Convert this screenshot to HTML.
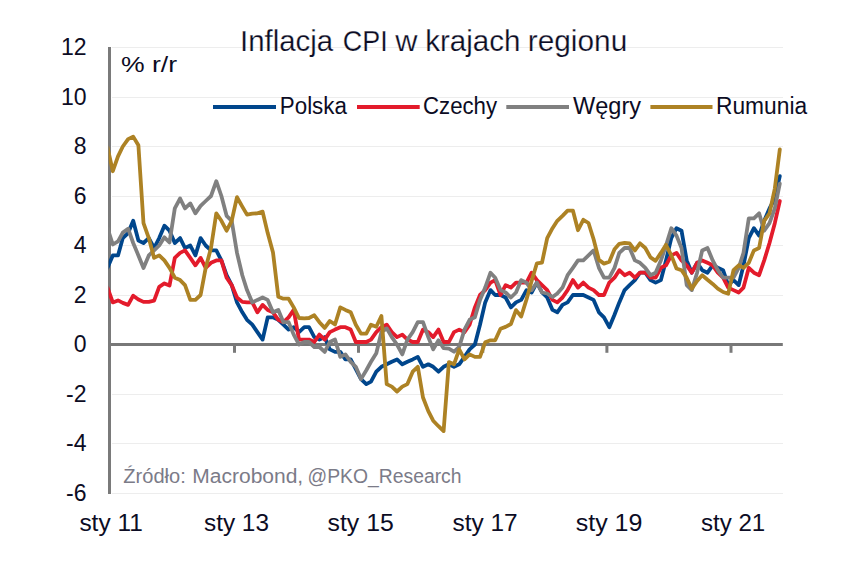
<!DOCTYPE html>
<html lang="pl"><head><meta charset="utf-8"><title>Inflacja CPI w krajach regionu</title>
<style>
html,body{margin:0;padding:0;background:#fff;}
body{width:849px;height:571px;overflow:hidden;}
svg{display:block;font-family:"Liberation Sans", "DejaVu Sans", sans-serif;}
text.t{stroke:#fff;stroke-width:0.25px;}
</style></head><body>
<svg width="849" height="571" viewBox="0 0 849 571">
<defs><clipPath id="pa"><rect x="108.7" y="0" width="700" height="571"/></clipPath></defs>
<line x1="112" y1="47.5" x2="783" y2="47.5" stroke="#ededed" stroke-width="1"/>
<line x1="112" y1="97.5" x2="783" y2="97.5" stroke="#ededed" stroke-width="1"/>
<line x1="112" y1="146.5" x2="783" y2="146.5" stroke="#ededed" stroke-width="1"/>
<line x1="112" y1="196.5" x2="783" y2="196.5" stroke="#ededed" stroke-width="1"/>
<line x1="112" y1="245.5" x2="783" y2="245.5" stroke="#ededed" stroke-width="1"/>
<line x1="112" y1="295.5" x2="783" y2="295.5" stroke="#ededed" stroke-width="1"/>
<line x1="112" y1="394.5" x2="783" y2="394.5" stroke="#ededed" stroke-width="1"/>
<line x1="112" y1="443.5" x2="783" y2="443.5" stroke="#ededed" stroke-width="1"/>
<line x1="112" y1="493.5" x2="783" y2="493.5" stroke="#ededed" stroke-width="1"/>
<line x1="110" y1="344.5" x2="782.8" y2="344.5" stroke="#787878" stroke-width="3"/>
<line x1="234.5" y1="345" x2="234.5" y2="352.8" stroke="#7a7a7a" stroke-width="3"/>
<line x1="358.5" y1="345" x2="358.5" y2="352.8" stroke="#7a7a7a" stroke-width="3"/>
<line x1="482.8" y1="345" x2="482.8" y2="352.8" stroke="#7a7a7a" stroke-width="3"/>
<line x1="606.9" y1="345" x2="606.9" y2="352.8" stroke="#7a7a7a" stroke-width="3"/>
<line x1="731.0" y1="345" x2="731.0" y2="352.8" stroke="#7a7a7a" stroke-width="3"/>
<line x1="109.5" y1="47" x2="109.5" y2="494" stroke="#7a7a7a" stroke-width="3"/>
<text x="86.5" y="54.5" text-anchor="end" font-size="23" fill="#0c0c24">12</text>
<text x="86.5" y="104.5" text-anchor="end" font-size="23" fill="#0c0c24">10</text>
<text x="86.5" y="154.0" text-anchor="end" font-size="23" fill="#0c0c24">8</text>
<text x="86.5" y="203.5" text-anchor="end" font-size="23" fill="#0c0c24">6</text>
<text x="86.5" y="253.0" text-anchor="end" font-size="23" fill="#0c0c24">4</text>
<text x="86.5" y="302.5" text-anchor="end" font-size="23" fill="#0c0c24">2</text>
<text x="86.5" y="351.8" text-anchor="end" font-size="23" fill="#0c0c24">0</text>
<text x="86.5" y="401.5" text-anchor="end" font-size="23" fill="#0c0c24">-2</text>
<text x="86.5" y="451.0" text-anchor="end" font-size="23" fill="#0c0c24">-4</text>
<text x="86.5" y="500.5" text-anchor="end" font-size="23" fill="#0c0c24">-6</text>
<g clip-path="url(#pa)" fill="none" stroke-width="3.8" stroke-linejoin="round" stroke-linecap="round">
<polyline points="107.5,267.8 112.8,255.4 118.0,255.4 122.8,238.1 128.1,233.1 133.2,220.8 138.4,240.6 143.5,243.0 148.8,238.1 154.1,248.0 159.2,238.1 164.4,225.7 169.5,230.7 174.8,243.0 180.1,238.1 185.0,248.0 190.3,245.5 195.4,255.4 200.6,238.1 205.7,245.5 211.0,250.4 216.3,250.4 221.4,260.4 226.6,275.2 231.7,285.1 237.0,302.4 242.3,312.3 247.0,319.8 252.3,324.7 257.4,332.1 262.6,339.6 267.7,317.3 273.0,317.3 278.3,319.8 283.4,324.7 288.6,329.6 293.7,327.2 299.0,332.1 304.3,327.2 309.0,327.2 314.3,337.1 319.4,339.6 324.7,337.1 329.8,349.4 335.0,351.9 340.3,351.9 345.4,359.4 350.7,359.4 355.8,369.2 361.0,379.1 366.3,384.1 371.0,381.6 376.3,371.7 381.4,366.8 386.7,364.3 391.8,361.8 397.0,359.4 402.3,364.3 407.4,361.8 412.7,359.4 417.8,356.9 423.0,366.8 428.3,364.3 433.2,366.8 438.5,371.7 443.6,366.8 448.9,364.3 454.0,366.8 459.2,364.3 464.5,356.9 469.6,349.4 474.9,344.5 480.0,324.7 485.2,302.4 490.5,290.1 495.2,295.0 500.5,295.0 505.6,297.5 510.9,307.4 516.0,302.4 521.2,299.9 526.5,290.1 531.6,292.5 536.9,282.6 542.0,292.5 547.2,297.5 552.5,309.9 557.3,312.3 562.5,304.9 567.6,302.4 572.9,295.0 578.0,295.0 583.3,295.0 588.5,297.5 593.6,299.9 598.9,312.3 604.0,317.3 609.3,327.2 614.5,314.8 619.3,302.4 624.6,290.1 629.6,285.1 634.9,280.1 640.0,272.7 645.3,272.7 650.5,280.1 655.6,282.6 660.9,280.1 666.0,260.4 671.3,238.1 676.5,228.2 681.5,230.7 686.7,260.4 691.8,272.7 697.1,262.8 702.2,270.2 707.5,272.7 712.7,265.3 717.8,267.8 723.1,270.2 728.2,285.1 733.5,280.1 738.7,285.1 743.5,265.3 748.8,238.1 753.9,228.2 759.1,235.6 764.2,220.8 769.5,208.4 774.8,198.5 779.8,176.2" stroke="#00468c"/>
<polyline points="107.5,287.6 112.8,302.4 118.0,300.4 122.8,302.9 128.1,304.9 133.2,295.7 138.4,299.5 143.5,301.9 148.8,301.9 154.1,300.7 159.2,286.8 164.4,283.4 169.5,285.6 174.8,257.9 180.1,252.9 185.0,250.4 190.3,257.9 195.4,265.3 200.6,257.9 205.7,267.8 211.0,262.8 216.3,260.4 221.4,260.4 226.6,277.7 231.7,285.1 237.0,297.5 242.3,301.9 247.0,302.4 252.3,302.4 257.4,312.3 262.6,304.9 267.7,309.9 273.0,312.3 278.3,319.8 283.4,322.2 288.6,317.3 293.7,309.9 299.0,339.6 304.3,339.6 309.0,339.6 314.3,342.0 319.4,334.6 324.7,339.6 329.8,332.1 335.0,329.6 340.3,327.2 345.4,327.2 350.7,329.6 355.8,342.0 361.0,342.0 366.3,342.0 371.0,339.6 376.3,332.1 381.4,327.2 386.7,324.7 391.8,332.1 397.0,337.1 402.3,334.6 407.4,339.6 412.7,342.0 417.8,342.0 423.0,329.6 428.3,332.1 433.2,337.1 438.5,329.6 443.6,342.0 448.9,342.0 454.0,332.1 459.2,329.6 464.5,332.1 469.6,324.7 474.9,307.4 480.0,295.0 485.2,290.1 490.5,282.6 495.2,280.1 500.5,295.0 505.6,285.1 510.9,287.6 516.0,282.6 521.2,282.6 526.5,282.6 531.6,272.7 536.9,280.1 542.0,285.1 547.2,290.1 552.5,299.9 557.3,302.4 562.5,297.5 567.6,290.1 572.9,280.1 578.0,287.6 583.3,282.6 588.5,287.6 593.6,290.1 598.9,295.0 604.0,295.0 609.3,282.6 614.5,277.7 619.3,270.2 624.6,275.2 629.6,272.7 634.9,277.7 640.0,272.7 645.3,272.7 650.5,277.7 655.6,277.7 660.9,267.8 666.0,265.3 671.3,255.4 676.5,252.9 681.5,260.4 686.7,265.3 691.8,272.7 697.1,262.8 702.2,260.4 707.5,262.8 712.7,265.3 717.8,272.7 723.1,277.7 728.2,287.6 733.5,290.1 738.7,292.5 743.5,287.6 748.8,267.8 753.9,272.7 759.1,275.2 764.2,260.4 769.5,243.0 774.8,223.2 779.8,201.0" stroke="#e31b2b"/>
<polyline points="107.5,228.2 112.8,244.5 118.0,241.3 122.8,232.6 128.1,228.7 133.2,243.0 138.4,255.4 143.5,268.0 148.8,255.4 154.1,250.4 159.2,245.5 164.4,237.3 169.5,242.5 174.8,208.4 180.1,198.5 185.0,208.4 190.3,203.4 195.4,213.3 200.6,205.9 205.7,201.0 211.0,196.0 216.3,181.2 221.4,196.0 226.6,215.8 231.7,220.8 237.0,252.9 242.3,275.2 247.0,290.1 252.3,302.4 257.4,299.9 262.6,297.5 267.7,299.9 273.0,312.3 278.3,309.9 283.4,322.2 288.6,322.2 293.7,334.6 299.0,344.5 304.3,342.0 309.0,342.0 314.3,347.0 319.4,347.0 324.7,351.9 329.8,342.0 335.0,339.6 340.3,356.9 345.4,354.4 350.7,361.8 355.8,366.8 361.0,379.1 366.3,370.2 371.0,361.8 376.3,353.2 381.4,332.1 386.7,328.4 391.8,337.1 397.0,344.5 402.3,354.4 407.4,339.6 412.7,332.1 417.8,322.2 423.0,322.2 428.3,337.1 433.2,349.4 438.5,340.3 443.6,348.2 448.9,348.7 454.0,351.7 459.2,347.0 464.5,329.6 469.6,319.8 474.9,317.3 480.0,299.9 485.2,287.6 490.5,272.7 495.2,277.7 500.5,290.1 505.6,292.5 510.9,297.5 516.0,292.5 521.2,280.1 526.5,282.6 531.6,290.1 536.9,282.6 542.0,292.5 547.2,293.5 552.5,297.0 557.3,293.5 562.5,287.6 567.6,275.2 572.9,267.8 578.0,260.4 583.3,260.4 588.5,255.4 593.6,250.4 598.9,267.8 604.0,277.7 609.3,277.7 614.5,267.8 619.3,252.9 624.6,248.0 629.6,248.0 634.9,260.4 640.0,262.8 645.3,267.8 650.5,275.2 655.6,272.7 660.9,260.4 666.0,245.5 671.3,228.2 676.5,235.6 681.5,248.0 686.7,285.1 691.8,290.1 697.1,272.7 702.2,250.4 707.5,248.0 712.7,260.4 717.8,270.2 723.1,277.7 728.2,277.7 733.5,277.7 738.7,267.8 743.5,252.9 748.8,218.3 753.9,218.3 759.1,213.3 764.2,230.7 769.5,223.2 774.8,208.4 779.8,183.6" stroke="#808080"/>
<polyline points="107.5,147.5 112.8,171.2 118.0,156.4 122.8,146.5 128.1,139.1 133.2,136.6 138.4,145.3 143.5,223.2 148.8,238.1 154.1,257.9 159.2,255.4 164.4,260.4 169.5,267.8 174.8,277.7 180.1,280.1 185.0,285.1 190.3,299.9 195.4,299.9 200.6,295.0 205.7,267.8 211.0,248.0 216.3,213.3 221.4,220.8 226.6,230.7 231.7,220.8 237.0,197.2 242.3,206.6 247.0,214.6 252.3,213.6 257.4,213.3 262.6,211.6 267.7,233.1 273.0,252.4 278.3,296.7 283.4,298.7 288.6,298.7 293.7,307.4 299.0,318.0 304.3,318.3 309.0,318.0 314.3,315.3 319.4,322.2 324.7,327.9 329.8,321.0 335.0,324.5 340.3,307.4 345.4,309.9 350.7,312.3 355.8,324.7 361.0,333.6 366.3,333.6 371.0,324.7 376.3,326.7 381.4,316.0 386.7,384.1 391.8,386.6 397.0,391.5 402.3,386.6 407.4,384.1 412.7,371.7 417.8,366.8 423.0,397.5 428.3,411.1 433.2,420.7 438.5,426.2 443.6,431.1 448.9,362.1 454.0,364.3 459.2,349.4 464.5,359.4 469.6,354.4 474.9,356.9 480.0,356.9 485.2,342.3 490.5,340.3 495.2,340.3 500.5,328.7 505.6,326.9 510.9,324.0 516.0,310.1 521.2,316.5 526.5,299.5 531.6,281.1 536.9,263.3 542.0,262.6 547.2,238.1 552.5,228.2 557.3,220.8 562.5,215.8 567.6,210.6 572.9,210.6 578.0,230.2 583.3,219.8 588.5,223.0 593.6,239.3 598.9,259.9 604.0,263.6 609.3,261.8 614.5,249.2 619.3,243.8 624.6,242.8 629.6,243.3 634.9,250.4 640.0,243.3 645.3,248.0 650.5,257.4 655.6,260.8 660.9,252.9 666.0,244.8 671.3,255.4 676.5,268.5 681.5,270.2 686.7,277.7 691.8,288.8 697.1,280.9 702.2,275.2 707.5,279.7 712.7,283.9 717.8,288.6 723.1,292.0 728.2,293.8 733.5,270.2 738.7,265.3 743.5,267.8 748.8,262.8 753.9,250.4 759.1,248.0 764.2,220.8 769.5,213.3 774.8,188.6 779.8,149.5" stroke="#ad8224"/>
</g>
<line x1="213" y1="107" x2="276" y2="107" stroke="#00468c" stroke-width="4"/>
<line x1="357" y1="107" x2="419.7" y2="107" stroke="#e31b2b" stroke-width="4"/>
<line x1="506.3" y1="107" x2="569" y2="107" stroke="#808080" stroke-width="4"/>
<line x1="650.4" y1="107" x2="712.5" y2="107" stroke="#ad8224" stroke-width="4"/>
<text class="t" x="240.00" y="51" font-size="30" fill="#0c0c24" textLength="93.09" lengthAdjust="spacingAndGlyphs">Inflacja</text>
<text class="t" x="342.80" y="51" font-size="30" fill="#0c0c24" textLength="44.87" lengthAdjust="spacingAndGlyphs">CPI</text>
<text class="t" x="395.20" y="51" font-size="30" fill="#0c0c24" textLength="22.27" lengthAdjust="spacingAndGlyphs">w</text>
<text class="t" x="425.20" y="51" font-size="30" fill="#0c0c24" textLength="95.17" lengthAdjust="spacingAndGlyphs">krajach</text>
<text class="t" x="527.80" y="51" font-size="30" fill="#0c0c24" textLength="99.42" lengthAdjust="spacingAndGlyphs">regionu</text>
<text x="123.30" y="482.5" font-size="19.5" fill="#7b7b88" textLength="62.50" lengthAdjust="spacingAndGlyphs">Źródło:</text>
<text x="192.30" y="482.5" font-size="19.5" fill="#7b7b88" textLength="110.89" lengthAdjust="spacingAndGlyphs">Macrobond,</text>
<text x="307.50" y="482.5" font-size="19.5" fill="#7b7b88" textLength="154.06" lengthAdjust="spacingAndGlyphs">@PKO_Research</text>
<text x="121.00" y="71.8" font-size="22.5" fill="#0c0c24" textLength="56.10" lengthAdjust="spacingAndGlyphs">% r/r</text>
<text x="279.80" y="113.6" font-size="23.5" fill="#0c0c24" textLength="67.12" lengthAdjust="spacingAndGlyphs">Polska</text>
<text x="423.00" y="113.6" font-size="23.5" fill="#0c0c24" textLength="74.09" lengthAdjust="spacingAndGlyphs">Czechy</text>
<text x="573.00" y="113.6" font-size="23.5" fill="#0c0c24" textLength="68.07" lengthAdjust="spacingAndGlyphs">Węgry</text>
<text x="716.00" y="113.6" font-size="23.5" fill="#0c0c24" textLength="91.12" lengthAdjust="spacingAndGlyphs">Rumunia</text>
<text x="79.40" y="530.8" font-size="23" fill="#0c0c24" textLength="63.38" lengthAdjust="spacingAndGlyphs">sty 11</text>
<text x="204.00" y="530.8" font-size="23" fill="#0c0c24" textLength="64.96" lengthAdjust="spacingAndGlyphs">sty 13</text>
<text x="327.60" y="530.8" font-size="23" fill="#0c0c24" textLength="66.14" lengthAdjust="spacingAndGlyphs">sty 15</text>
<text x="452.50" y="530.8" font-size="23" fill="#0c0c24" textLength="65.09" lengthAdjust="spacingAndGlyphs">sty 17</text>
<text x="575.70" y="530.8" font-size="23" fill="#0c0c24" textLength="66.71" lengthAdjust="spacingAndGlyphs">sty 19</text>
<text x="701.00" y="530.8" font-size="23" fill="#0c0c24" textLength="64.27" lengthAdjust="spacingAndGlyphs">sty 21</text>
</svg>
</body></html>
